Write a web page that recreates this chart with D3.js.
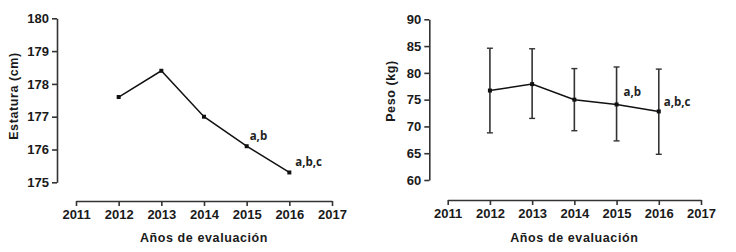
<!DOCTYPE html>
<html>
<head>
<meta charset="utf-8">
<script src="https://cdn.jsdelivr.net/npm/d3@7"></script>
<style>
  body { margin: 0; background: #fff; }
  .axis text { font-family: "Liberation Sans", Arial, sans-serif; font-weight: bold; font-size: 13px; fill: #1a1a1a; }
  .axis path, .axis line { stroke: #333; stroke-width: 1.6px; }
  .titulo { font-family: "Liberation Sans", Arial, sans-serif; font-weight: bold; font-size: 12.5px; fill: #1a1a1a; letter-spacing: 0.6px; }
  .letra { font-family: "Open Sans", sans-serif; font-weight: 700; font-size: 11.5px; fill: #222; }
</style>
</head>
<body>
<div id="chart"></div>
<script>
// datos
var years = [2012, 2013, 2014, 2015, 2016];
var xTicks = [2011, 2012, 2013, 2014, 2015, 2016, 2017];
var estatura = [177.6, 178.4, 177.0, 176.1, 175.3];
var estaturaTicks = [175, 176, 177, 178, 179, 180];
var peso = [76.7, 77.9, 75.0, 74.1, 72.8];
var pesoSup = [84.6, 84.5, 80.8, 81.1, 80.7];
var pesoInf = [68.8, 71.5, 69.2, 67.3, 64.8];
var pesoTicks = [60, 65, 70, 75, 80, 85, 90];
var letras = ["", "", "", "a,b", "a,b,c"];

var svg = d3.select("#chart").append("svg")
    .attr("width", 736)
    .attr("height", 252);

function panel(cfg) {
    var x = d3.scaleLinear().domain([2011, 2017]).range([cfg.x0, cfg.x1]);
    var y = d3.scaleLinear().domain(cfg.yDomain).range([cfg.yBottom, cfg.yTop]);

    // eje y
    svg.append("g")
        .attr("class", "axis")
        .attr("transform", "translate(" + cfg.yAxisX + ",0)")
        .call(d3.axisLeft(y).tickValues(cfg.yTicks).tickSize(5).tickSizeOuter(0).tickPadding(3).tickFormat(d3.format("d")));

    // eje x
    svg.append("g")
        .attr("class", "axis")
        .attr("transform", "translate(0," + cfg.xAxisY + ")")
        .call(d3.axisBottom(x).tickValues(xTicks).tickSize(5).tickSizeOuter(0).tickPadding(4).tickFormat(d3.format("d")));

    svg.append("text")
        .attr("class", "titulo")
        .attr("x", (cfg.x0 + cfg.x1) / 2)
        .attr("y", 242)
        .attr("text-anchor", "middle")
        .text("Años de evaluación");

    svg.append("text")
        .attr("class", "titulo")
        .attr("transform", "translate(" + cfg.yLabelX + "," + cfg.yLabelY + ") rotate(-90)")
        .attr("text-anchor", "middle")
        .text(cfg.yLabel);

    var g = svg.append("g");

    // barras de error
    if (cfg.sup) {
        years.forEach(function(yr, i) {
            var cx = x(yr);
            g.append("line").attr("x1", cx).attr("x2", cx)
                .attr("y1", y(cfg.sup[i])).attr("y2", y(cfg.inf[i]))
                .attr("stroke", "#333").attr("stroke-width", 1.6);
            [cfg.sup[i], cfg.inf[i]].forEach(function(v) {
                g.append("line").attr("x1", cx - 3).attr("x2", cx + 3)
                    .attr("y1", y(v)).attr("y2", y(v))
                    .attr("stroke", "#333").attr("stroke-width", 1.4);
            });
        });
    }

    var line = d3.line()
        .x(function(d, i) { return x(years[i]); })
        .y(function(d) { return y(d); });

    g.append("path")
        .datum(cfg.values)
        .attr("d", line)
        .attr("fill", "none")
        .attr("stroke", "#111")
        .attr("stroke-width", 1.5);

    g.selectAll(".pt")
        .data(cfg.values)
        .enter()
        .append("rect")
        .attr("x", function(d, i) { return x(years[i]) - 2; })
        .attr("y", function(d) { return y(d) - 2; })
        .attr("width", 4)
        .attr("height", 4)
        .attr("fill", "#111");

    g.selectAll(".letra")
        .data(cfg.values)
        .enter()
        .append("text")
        .attr("class", "letra")
        .attr("x", function(d, i) { return x(years[i]) + cfg.ldx[i]; })
        .attr("y", function(d, i) { return y(d) + cfg.ldy[i]; })
        .text(function(d, i) { return letras[i]; });
}

panel({
    x0: 76, x1: 332, xAxisY: 201,
    yAxisX: 57, yTop: 18.3, yBottom: 182.3,
    yDomain: [175, 180], yTicks: estaturaTicks,
    yLabel: "Estatura (cm)", yLabelX: 18, yLabelY: 96,
    values: estatura,
    ldx: [0, 0, 0, 3, 6], ldy: [0, 0, 0, -6, -6]
});

panel({
    x0: 447.7, x1: 701, xAxisY: 200,
    yAxisX: 429.3, yTop: 19.3, yBottom: 180,
    yDomain: [60, 90], yTicks: pesoTicks,
    yLabel: "Peso (kg)", yLabelX: 395, yLabelY: 91,
    values: peso, sup: pesoSup, inf: pesoInf,
    ldx: [0, 0, 0, 7, 5], ldy: [0, 0, 0, -8, -5]
});
</script>
</body>
</html>
